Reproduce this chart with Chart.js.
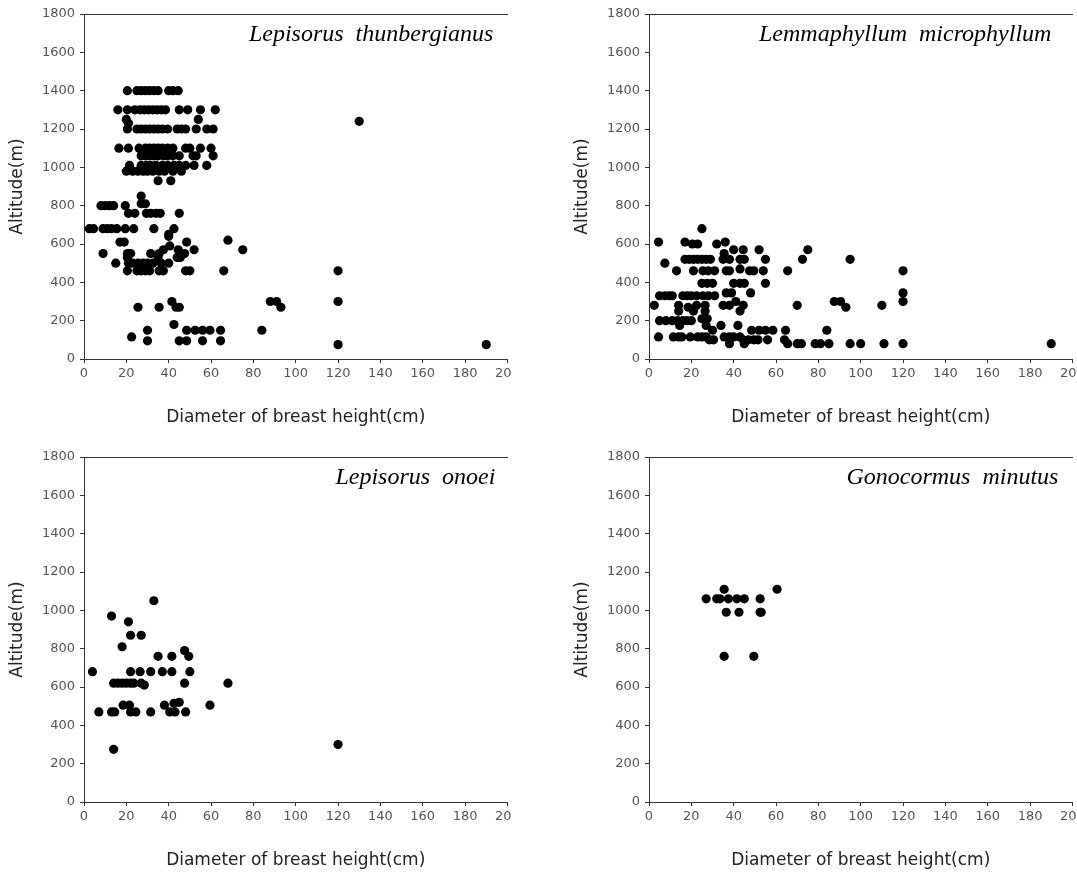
<!DOCTYPE html>
<html>
<head>
<meta charset="utf-8">
<title>DBH vs altitude</title>
<script src="https://cdn.jsdelivr.net/npm/chart.js@4.4.1/dist/chart.umd.min.js"></script>
<style>
  html, body { margin: 0; padding: 0; background: #fff; overflow: hidden; }
  #wrap { position: relative; width: 1077px; height: 872px; }
  canvas { position: absolute; }
</style>
</head>
<body>
<div id="wrap">
  <canvas id="c1" width="512" height="436" style="left:0;top:0"></canvas>
  <canvas id="c2" width="512" height="436" style="left:565px;top:0"></canvas>
  <canvas id="c3" width="512" height="436" style="left:0;top:443px"></canvas>
  <canvas id="c4" width="512" height="436" style="left:565px;top:443px"></canvas>
</div>
<script>
// tick labels
const dbhTicks = [0, 20, 40, 60, 80, 100, 120, 140, 160, 180, 200];
const altitudeTicks = [0, 200, 400, 600, 800, 1000, 1200, 1400, 1600, 1800];

// each row: [altitude (m), [DBH (cm) of trees at that altitude]]
const lepisorusThunbergianus = [
  [1400, [20.5, 25, 27, 29, 31, 33, 35, 40, 42, 44.5]],
  [1300, [16, 20.5, 24, 26.5, 28.5, 30.5, 32.5, 34.5, 36.5, 38.5, 45, 49, 55, 62]],
  [1250, [20, 54]],
  [1240, [130]],
  [1230, [21]],
  [1200, [20.5, 25, 27, 29, 31, 33, 35, 37, 39.5, 44, 46, 48, 53, 58, 61]],
  [1100, [16.5, 21, 26, 29, 31, 33, 35, 37, 39.5, 42, 48, 50, 55, 60]],
  [1060, [27, 29, 31, 33, 35, 37.5, 39.5, 42, 45, 51.5, 53, 61]],
  [1010, [21.5, 27, 29.5, 31.5, 34, 37, 39.5, 42.5, 45, 48, 52, 58]],
  [980, [20, 23, 25.5, 28, 30, 32.5, 35.5, 38, 42, 46]],
  [930, [35, 41]],
  [850, [27]],
  [810, [27, 29]],
  [800, [8, 10, 12, 14, 19.5]],
  [760, [21, 24, 29.5, 31.5, 34, 36, 45]],
  [680, [2.5, 4.5, 9, 11, 13, 15.5, 19.5, 23.5, 33, 42.5]],
  [650, [40]],
  [640, [40]],
  [620, [68]],
  [610, [17, 19, 48.5]],
  [590, [40.5]],
  [570, [37.5, 44.5, 52, 75]],
  [550, [9, 20.5, 22, 31.5, 35.5, 45.5, 47.5]],
  [530, [20.5, 35, 44, 45.5]],
  [500, [15, 21, 23, 25.5, 28, 30, 32.5, 36.5, 40]],
  [460, [20.5, 25, 27, 29, 31, 35.5, 37.5, 48, 50, 66, 120]],
  [300, [41.5, 88, 91, 120]],
  [270, [25.5, 35.5, 43.5, 45, 93]],
  [180, [42.5]],
  [150, [30, 48.5, 52.5, 56, 59.5, 64.5, 84]],
  [115, [22.5]],
  [95, [30, 45, 48.5, 56, 64.5]],
  [75, [120, 190]]
];

const lemmaphyllumMicrophyllum = [
  [680, [25]],
  [610, [4.5, 17, 36]],
  [600, [20.5, 23, 32]],
  [570, [40, 44.5, 52, 75]],
  [550, [35.5]],
  [520, [17, 19, 21, 23, 25, 27, 29, 35, 38, 43, 45, 55, 72.5, 95]],
  [500, [7.5]],
  [470, [43]],
  [460, [13, 21, 25.5, 28, 31, 36.5, 38, 47.5, 49.5, 54, 65.5, 120]],
  [395, [25, 27.5, 30, 40, 43, 45, 55]],
  [345, [36.5, 39, 48, 120]],
  [330, [5, 7.5, 9.5, 11, 16, 18, 20, 22.5, 25.5, 28, 31]],
  [300, [41, 87.5, 90.5, 120]],
  [280, [2.5, 14, 22.5, 26.5, 35, 38, 44.5, 70, 110]],
  [270, [18.5, 93]],
  [250, [14, 21, 26.5, 43]],
  [210, [25, 27.5]],
  [200, [5, 8, 11, 13.5, 16, 18, 20]],
  [175, [14.5, 27, 34, 42]],
  [150, [30, 48.5, 52, 55, 58.5, 64.5, 84]],
  [115, [4.5, 11.5, 14, 15.5, 19.5, 23, 25, 27, 35.5, 38, 40, 43]],
  [100, [28.5, 30.5, 44.5, 47, 49.5, 51.5, 56, 64]],
  [80, [38, 45, 65.5, 70, 72, 78.5, 81, 85, 95, 100, 111, 120, 190]]
];

const lepisorusOnoei = [
  [1050, [33]],
  [970, [13]],
  [940, [21]],
  [870, [22, 27]],
  [810, [18]],
  [790, [47.5]],
  [760, [35, 41.5, 49.5]],
  [680, [4, 22, 26.5, 31.5, 37, 41.5, 50]],
  [620, [14, 16, 18, 20, 22, 23.5, 27, 47.5, 68]],
  [610, [28.5]],
  [520, [45]],
  [515, [42.5]],
  [505, [18.5, 21.5, 38, 59.5]],
  [470, [7, 13, 14.5, 22, 24.5, 31.5, 40.5, 43, 48]],
  [300, [120]],
  [275, [14]]
];

const gonocormusMinutus = [
  [1110, [35.5, 60.5]],
  [1060, [27, 32, 33.5, 37.5, 41.5, 45, 52.5]],
  [990, [36.5, 42.5, 52.5, 53]],
  [760, [35.5, 49.5]]
];

const panels = [
  { id: 'c1', name: 'Lepisorus  thunbergianus', rows: lepisorusThunbergianus, inset: 14 },
  { id: 'c2', name: 'Lemmaphyllum  microphyllum', rows: lemmaphyllumMicrophyllum, inset: 21 },
  { id: 'c3', name: 'Lepisorus  onoei', rows: lepisorusOnoei, inset: 12 },
  { id: 'c4', name: 'Gonocormus  minutus', rows: gonocormusMinutus, inset: 14 }
];

function toPoints(rows) {
  return rows.flatMap(([alt, dbhs]) => dbhs.map(d => ({ x: d, y: alt })));
}

// species name, top right inside the plot
const speciesLabel = {
  id: 'speciesLabel',
  afterDraw(chart, args, opts) {
    const { ctx, chartArea } = chart;
    ctx.save();
    ctx.font = 'italic 24px "Liberation Serif"';
    ctx.fillStyle = '#000';
    ctx.textAlign = 'right';
    ctx.textBaseline = 'middle';
    ctx.fillText(opts.text, chartArea.right - opts.inset, chartArea.top + 21);
    ctx.restore();
  }
};

Chart.defaults.font.family = '"DejaVu Sans", sans-serif';
const axisColor = '#333';

panels.forEach(p => {
  new Chart(document.getElementById(p.id), {
    type: 'scatter',
    data: {
      datasets: [{
        data: toPoints(p.rows),
        pointRadius: 4.6,
        pointHoverRadius: 4.6,
        pointBackgroundColor: '#000',
        pointBorderWidth: 0,
        borderWidth: 0
      }]
    },
    options: {
      responsive: false,
      animation: false,
      devicePixelRatio: 1,
      layout: { padding: { top: 14, right: 0, bottom: 0, left: 0 } },
      plugins: {
        legend: { display: false },
        tooltip: { enabled: false },
        speciesLabel: { text: p.name, inset: p.inset }
      },
      scales: {
        x: {
          type: 'linear',
          position: 'bottom',
          min: 0,
          max: 200,
          afterBuildTicks: s => { s.ticks = dbhTicks.map(v => ({ value: v })); },
          afterFit: s => { s.height = 77; s.paddingLeft = 0; s.paddingRight = 0; },
          ticks: { color: '#555', font: { size: 13 }, padding: 3, maxRotation: 0, autoSkip: false, callback: v => String(v) },
          grid: { display: true, drawOnChartArea: false, drawTicks: true, tickLength: 4, color: axisColor },
          border: { display: true, color: axisColor, width: 1 },
          title: {
            display: true,
            text: 'Diameter of breast height(cm)',
            color: '#222',
            font: { size: 17 },
            padding: { top: 0, bottom: 8 }
          }
        },
        xTop: {
          type: 'linear',
          position: 'top',
          min: 0,
          max: 200,
          ticks: { display: false },
          grid: { display: false, drawTicks: false },
          border: { display: true, color: axisColor, width: 1 }
        },
        y: {
          type: 'linear',
          min: 0,
          max: 1800,
          afterBuildTicks: s => { s.ticks = altitudeTicks.map(v => ({ value: v })); },
          afterFit: s => { s.width = 84; s.paddingTop = 0; s.paddingBottom = 0; },
          ticks: { color: '#555', font: { size: 13 }, padding: 5, autoSkip: false, callback: v => String(v) },
          grid: { display: true, drawOnChartArea: false, drawTicks: true, tickLength: 4, color: axisColor },
          border: { display: true, color: axisColor, width: 1 },
          title: {
            display: true,
            text: 'Altitude(m)',
            color: '#222',
            font: { size: 17 },
            padding: { top: 7, bottom: 0 }
          }
        }
      }
    },
    plugins: [speciesLabel]
  });
});
</script>
</body>
</html>
